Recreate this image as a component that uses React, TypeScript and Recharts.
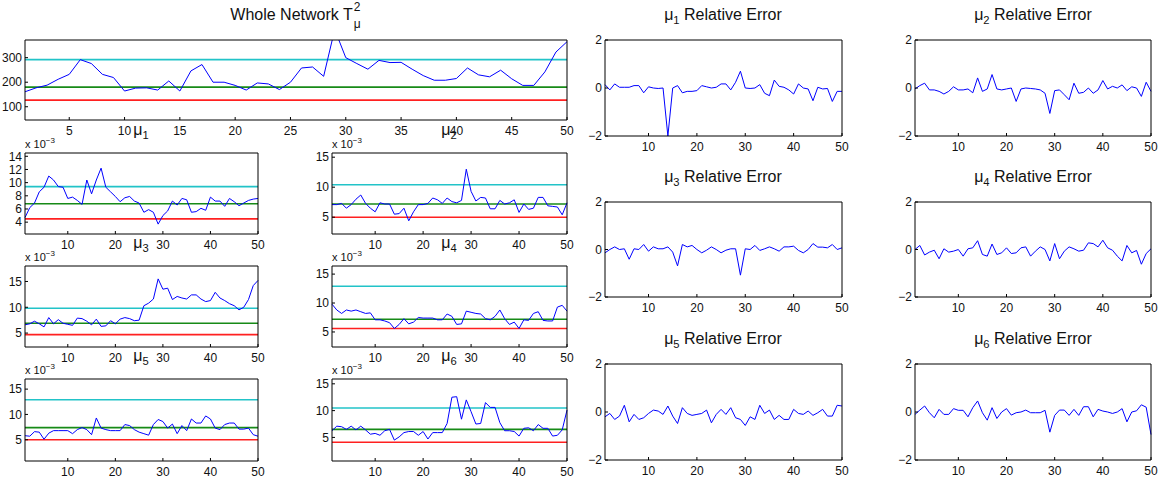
import React from 'react';
import { LineChart, Line, XAxis, YAxis, ReferenceLine } from 'recharts';

// sample number on the x axis of every panel
const sampleIndex = [
  1, 2, 3, 4, 5, 6, 7, 8, 9, 10, 11, 12, 13, 14, 15, 16, 17, 18, 19, 20, 21, 22, 23, 24, 25,
  26, 27, 28, 29, 30, 31, 32, 33, 34, 35, 36, 37, 38, 39, 40, 41, 42, 43, 44, 45, 46, 47, 48, 49, 50,
];

const wideTicks = [5, 10, 15, 20, 25, 30, 35, 40, 45, 50];
const narrowTicks = [10, 20, 30, 40, 50];

// whole network T^2
const wholeT2 = [
  161, 177, 188, 212, 232, 292, 276, 232, 219, 164, 176, 177, 168, 205, 164, 246, 272, 200, 200, 187,
  168, 197, 193, 170, 200, 258, 262, 224, 415, 300, 276, 253, 289, 280, 281, 253, 227, 208, 208, 215,
  258, 230, 222, 249, 214, 187, 187, 242, 323, 365,
];
const wholeT2Limits = [292, 180, 127];

// per-parameter T^2 (x 10^-3)
const mu1 = [
  4.7, 6.2, 6.9, 8.6, 9.3, 11.0, 10.4, 9.4, 9.3, 7.6, 7.8, 7.3, 6.7, 10.4, 8.3, 10.4, 12.2, 9.3, 8.6, 7.9,
  7.1, 7.7, 7.9, 7.2, 6.9, 5.5, 5.9, 5.5, 3.7, 5.0, 5.7, 7.2, 6.6, 7.6, 7.4, 5.5, 5.6, 6.1, 5.8, 7.8,
  7.2, 7.2, 6.4, 7.6, 7.1, 6.5, 6.9, 7.3, 7.5, 7.6,
];
const mu2 = [
  7.1, 7.1, 7.3, 6.5, 7.1, 8.0, 8.7, 7.3, 6.5, 5.9, 7.4, 7.2, 7.2, 5.5, 5.6, 6.5, 4.4, 5.9, 7.1, 7.1,
  7.3, 8.2, 7.9, 7.3, 8.2, 7.6, 7.4, 7.8, 13.0, 9.3, 7.7, 8.3, 8.2, 6.4, 6.4, 7.8, 7.2, 7.4, 7.9, 5.8,
  7.2, 6.3, 6.5, 8.3, 8.3, 6.9, 6.8, 6.7, 5.4, 7.4,
];
const mu3 = [
  6.6, 6.8, 7.3, 6.8, 6.2, 8.0, 6.8, 7.6, 6.9, 6.7, 6.5, 7.9, 7.8, 7.3, 6.6, 7.7, 6.3, 6.4, 7.4, 6.8,
  7.7, 8.0, 7.8, 7.4, 7.5, 10.3, 10.8, 11.6, 15.5, 13.5, 13.7, 11.5, 12.1, 11.8, 11.6, 12.4, 12.4, 11.6, 11.1, 11.3,
  12.9, 11.8, 11.3, 10.7, 10.3, 9.5, 10.0, 11.5, 14.2, 15.2,
];
const mu4 = [
  9.8, 8.8, 8.2, 8.8, 8.6, 8.8, 8.5, 8.2, 8.3, 7.1, 7.1, 6.9, 6.6, 5.6, 6.3, 7.3, 6.4, 6.7, 7.5, 7.4,
  7.4, 7.4, 7.1, 7.1, 8.1, 7.7, 6.3, 6.4, 8.6, 8.4, 8.2, 8.1, 7.3, 7.1, 7.7, 8.8, 7.3, 6.3, 6.7, 5.6,
  7.1, 7.0, 8.2, 8.5, 7.0, 6.9, 6.9, 9.3, 9.6, 8.6,
];
const mu5 = [
  5.8, 5.7, 6.6, 6.5, 5.1, 6.3, 6.8, 6.8, 6.8, 6.8, 6.2, 7.0, 7.4, 7.0, 6.0, 9.3, 7.3, 7.0, 6.8, 6.8,
  6.8, 8.0, 7.8, 7.0, 6.5, 6.2, 5.9, 8.0, 9.0, 8.6, 7.3, 8.1, 6.2, 7.8, 6.8, 9.1, 8.3, 8.3, 9.7, 9.1,
  7.3, 7.0, 8.0, 8.3, 8.3, 7.1, 7.1, 7.3, 6.0, 5.7,
];
const mu6 = [
  6.25, 7.1, 7.0, 6.5, 7.1, 6.4, 7.1, 6.4, 5.6, 5.75, 5.4, 6.25, 6.5, 4.5, 5.1, 5.9, 6.1, 6.1, 5.4, 6.1,
  4.7, 5.9, 5.9, 5.9, 7.6, 12.5, 12.6, 8.4, 12.0, 9.8, 7.5, 7.6, 11.5, 10.6, 10.6, 7.75, 6.25, 6.25, 6.1, 5.25,
  6.7, 6.8, 6.25, 7.4, 6.7, 6.7, 5.25, 5.4, 6.4, 10.1,
];
const mu1Limits = [9.4, 6.8, 4.5];
const mu2Limits = [10.4, 7.2, 5.0];
const mu3Limits = [9.8, 6.9, 4.7];
const mu4Limits = [12.9, 7.2, 5.6];
const mu5Limits = [12.9, 7.4, 5.0];
const mu6Limits = [10.5, 6.5, 4.1];

// relative errors
const relErr1 = [
  0.14, -0.08, 0.17, 0.03, 0.03, 0.03, 0.1, 0.1, -0.2, 0.05, 0, -0.02, 0, -2.0, 0, 0.1, -0.2, -0.14, -0.14, -0.11,
  0.1, 0.05, 0, 0.03, 0.17, 0.17, -0.08, 0.24, 0.7, 0, -0.02, 0, 0.14, -0.22, -0.32, 0.33, 0.07, 0.03, -0.08, -0.25,
  0.17, 0, -0.04, -0.53, 0.03, -0.04, -0.02, -0.56, -0.14, -0.14,
];
const relErr2 = [
  -0.04, 0.1, 0.2, -0.08, -0.08, -0.14, -0.25, -0.14, 0.05, -0.08, -0.08, -0.04, -0.2, 0.42, -0.14, -0.04, 0.56, -0.04, -0.08, -0.04,
  0, -0.56, -0.04, 0, -0.02, -0.04, -0.08, -0.22, -1.06, -0.11, -0.08, -0.28, -0.49, 0.2, -0.22, -0.18, 0, -0.22, -0.08, 0.31,
  -0.04, 0.07, 0, 0.13, -0.11, 0.05, 0, -0.35, 0.24, -0.14,
];
const relErr3 = [
  -0.14, 0, 0.11, 0, 0.03, -0.41, 0.03, 0, 0.21, -0.07, 0.11, 0.03, 0.03, 0.11, -0.11, -0.69, 0.21, 0.11, 0.17, 0,
  -0.14, -0.03, 0.11, 0, -0.14, -0.03, 0.03, 0.03, -1.08, 0.03, 0, 0.17, -0.04, 0.03, 0.11, 0.03, -0.07, 0.11, 0.11, 0.14,
  -0.04, -0.14, 0, 0.25, 0.1, 0.1, 0.07, 0.21, 0, 0.07,
];
const relErr4 = [
  0, 0.17, -0.23, -0.11, -0.03, -0.39, 0.03, -0.11, -0.07, 0, -0.28, 0.03, 0.07, 0.37, -0.21, -0.28, 0.23, -0.21, -0.14, 0.07,
  -0.17, -0.14, 0.07, 0.11, -0.28, -0.07, 0.11, 0, -0.48, 0.25, -0.39, -0.07, 0.11, 0.03, -0.07, -0.03, 0.28, 0.25, 0.11, 0.39,
  0.07, -0.03, -0.28, -0.48, 0.17, -0.14, -0.04, -0.62, -0.17, 0.03,
];
const relErr5 = [
  -0.2, -0.06, -0.31, -0.17, 0.28, -0.41, -0.1, -0.31, -0.24, -0.06, 0.08, 0.04, -0.1, 0.25, -0.17, -0.48, 0.18, -0.06, -0.14, -0.1,
  -0.06, 0.08, -0.45, -0.1, 0.11, -0.1, 0.18, -0.24, -0.31, -0.56, -0.2, -0.31, 0.28, -0.06, 0.08, -0.31, -0.14, -0.31, -0.31, 0.11,
  -0.06, -0.1, 0.04, -0.14, -0.03, 0.11, -0.17, -0.17, 0.28, 0.25,
];
const relErr6 = [
  -0.1, 0.08, 0.25, -0.03, -0.24, 0.11, -0.1, -0.1, 0.14, 0.07, 0.07, -0.2, 0.18, 0.46, -0.03, -0.34, 0.18, -0.27, 0, 0.14,
  -0.13, -0.03, 0, 0.08, -0.03, -0.03, -0.03, 0.07, -0.84, -0.14, 0.08, 0.08, -0.14, 0.11, -0.14, 0.22, 0.22, -0.2, 0.11, 0.04,
  0, -0.06, 0, 0.14, -0.41, 0, 0.05, 0.3, 0.2, -0.94,
];
const relErrTicks = [-2, 0, 2];

const FONT = '"Liberation Sans", Arial, Helvetica, sans-serif';
const limitColors = ['#22c3c8', '#178a17', '#ff2020'];

type PanelProps = {
  left: number;
  top: number;
  width: number;
  height: number;
  values: number[];
  yDomain: [number, number];
  yTicks: number[];
  xTicks: number[];
  limits?: number[];
};

function Panel({ left, top, width, height, values, yDomain, yTicks, xTicks, limits = [] }: PanelProps) {
  const data = sampleIndex.map((x, i) => ({ x, v: values[i] }));
  const padL = 40;
  const padT = 6;
  const padR = 8;
  const padB = 24;
  const tickStyle = { fill: '#111', fontSize: 12, fontFamily: FONT };
  return (
    <div style={{ position: 'absolute', left: left - padL, top: top - padT }}>
      <LineChart
        width={width + padL + padR}
        height={height + padT + padB}
        data={data}
        margin={{ top: padT, right: padR, bottom: 0, left: 0 }}
      >
        <XAxis
          dataKey="x"
          type="number"
          domain={[1, 50]}
          ticks={xTicks}
          interval={0}
          height={padB}
          stroke="#000"
          tickSize={-3}
          tickMargin={9}
          tick={tickStyle}
        />
        <YAxis
          type="number"
          domain={yDomain}
          ticks={yTicks}
          interval={0}
          allowDataOverflow
          width={padL}
          stroke="#000"
          tickSize={-3}
          tickMargin={6}
          tick={tickStyle}
          tickFormatter={(v: number) => (v < 0 ? '\u2212' + Math.abs(v) : String(v))}
        />
        {limits.map((lim, i) => (
          <ReferenceLine key={i} y={lim} stroke={limitColors[i]} strokeWidth={1.6} />
        ))}
        <Line
          dataKey="v"
          stroke="#0000ff"
          strokeWidth={1}
          dot={false}
          isAnimationActive={false}
        />
        {/* box: top and right edges */}
        <ReferenceLine y={yDomain[1]} stroke="#000" strokeWidth={1} />
        <ReferenceLine x={50} stroke="#000" strokeWidth={1} />
      </LineChart>
    </div>
  );
}

function Sub({ children }: { children: React.ReactNode }) {
  return <span style={{ fontSize: '0.7em', position: 'relative', top: '0.35em' }}>{children}</span>;
}

function Title({ cx, baseline, size = 16, children }: { cx: number; baseline: number; size?: number; children: React.ReactNode }) {
  return (
    <div
      style={{
        position: 'absolute',
        left: cx - 150,
        width: 300,
        top: baseline - size * 0.85,
        textAlign: 'center',
        fontSize: size,
        lineHeight: 1,
        whiteSpace: 'nowrap',
      }}
    >
      {children}
    </div>
  );
}

function Exponent({ left, baseline }: { left: number; baseline: number }) {
  return (
    <div style={{ position: 'absolute', left, top: baseline - 9, fontSize: 11, lineHeight: 1 }}>
      x 10<span style={{ fontSize: 8, position: 'relative', top: -5 }}>{'\u22123'}</span>
    </div>
  );
}

const colA = { left: 25, width: 233 };
const colB = { left: 332, width: 235 };
const colC = { left: 605, width: 237 };
const colD = { left: 915, width: 236 };
const rowsLeft = [
  { top: 153, height: 81 },
  { top: 266, height: 81 },
  { top: 379, height: 82 },
];
const rowsRight = [
  { top: 40, height: 96 },
  { top: 202, height: 95 },
  { top: 364, height: 96 },
];

export default function App() {
  return (
    <div
      style={{
        position: 'absolute',
        left: 0,
        top: 0,
        width: 1163,
        height: 480,
        background: '#fff',
        fontFamily: FONT,
        color: '#111',
        overflow: 'hidden',
      }}
    >
      <Panel left={25} top={40} width={542} height={80} values={wholeT2} yDomain={[46, 372]} yTicks={[100, 200, 300]} xTicks={wideTicks} limits={wholeT2Limits} />

      <Panel {...colA} {...rowsLeft[0]} values={mu1} yDomain={[2.2, 14.5]} yTicks={[4, 6, 8, 10, 12, 14]} xTicks={narrowTicks} limits={mu1Limits} />
      <Panel {...colB} {...rowsLeft[0]} values={mu2} yDomain={[2.2, 15.7]} yTicks={[5, 10, 15]} xTicks={narrowTicks} limits={mu2Limits} />
      <Panel {...colA} {...rowsLeft[1]} values={mu3} yDomain={[2.3, 18.0]} yTicks={[5, 10, 15]} xTicks={narrowTicks} limits={mu3Limits} />
      <Panel {...colB} {...rowsLeft[1]} values={mu4} yDomain={[2.4, 16.4]} yTicks={[5, 10, 15]} xTicks={narrowTicks} limits={mu4Limits} />
      <Panel {...colA} {...rowsLeft[2]} values={mu5} yDomain={[0.8, 17.0]} yTicks={[5, 10, 15]} xTicks={narrowTicks} limits={mu5Limits} />
      <Panel {...colB} {...rowsLeft[2]} values={mu6} yDomain={[0.6, 15.9]} yTicks={[5, 10, 15]} xTicks={narrowTicks} limits={mu6Limits} />

      <Panel {...colC} {...rowsRight[0]} values={relErr1} yDomain={[-2, 2]} yTicks={relErrTicks} xTicks={narrowTicks} />
      <Panel {...colD} {...rowsRight[0]} values={relErr2} yDomain={[-2, 2]} yTicks={relErrTicks} xTicks={narrowTicks} />
      <Panel {...colC} {...rowsRight[1]} values={relErr3} yDomain={[-2, 2]} yTicks={relErrTicks} xTicks={narrowTicks} />
      <Panel {...colD} {...rowsRight[1]} values={relErr4} yDomain={[-2, 2]} yTicks={relErrTicks} xTicks={narrowTicks} />
      <Panel {...colC} {...rowsRight[2]} values={relErr5} yDomain={[-2, 2]} yTicks={relErrTicks} xTicks={narrowTicks} />
      <Panel {...colD} {...rowsRight[2]} values={relErr6} yDomain={[-2, 2]} yTicks={relErrTicks} xTicks={narrowTicks} />

      <Title cx={296} baseline={21}>
        Whole Network T
        <span style={{ display: 'inline-block', position: 'relative', width: 9, height: 1 }}>
          <span style={{ position: 'absolute', left: 1, top: -18, fontSize: 12 }}>2</span>
          <span style={{ position: 'absolute', left: 1, top: -1, fontSize: 12 }}>μ</span>
        </span>
      </Title>

      <Title cx={141} baseline={136}>μ<Sub>1</Sub></Title>
      <Title cx={449} baseline={136}>μ<Sub>2</Sub></Title>
      <Title cx={141} baseline={249}>μ<Sub>3</Sub></Title>
      <Title cx={449} baseline={249}>μ<Sub>4</Sub></Title>
      <Title cx={141} baseline={362}>μ<Sub>5</Sub></Title>
      <Title cx={449} baseline={362}>μ<Sub>6</Sub></Title>

      <Exponent left={25} baseline={148} />
      <Exponent left={332} baseline={148} />
      <Exponent left={25} baseline={261} />
      <Exponent left={332} baseline={261} />
      <Exponent left={25} baseline={374} />
      <Exponent left={332} baseline={374} />

      <Title cx={723} baseline={21}>μ<Sub>1</Sub> Relative Error</Title>
      <Title cx={1033} baseline={21}>μ<Sub>2</Sub> Relative Error</Title>
      <Title cx={723} baseline={183}>μ<Sub>3</Sub> Relative Error</Title>
      <Title cx={1033} baseline={183}>μ<Sub>4</Sub> Relative Error</Title>
      <Title cx={723} baseline={345}>μ<Sub>5</Sub> Relative Error</Title>
      <Title cx={1033} baseline={345}>μ<Sub>6</Sub> Relative Error</Title>
    </div>
  );
}
